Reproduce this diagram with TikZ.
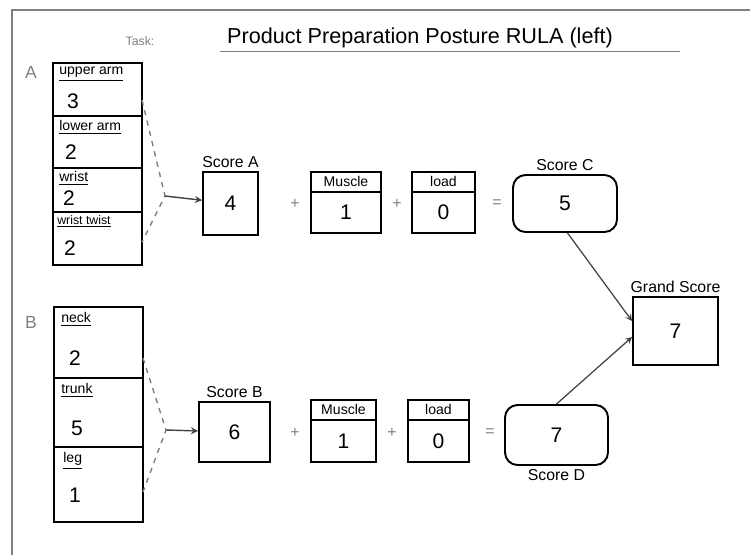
\documentclass[tikz,border=0pt]{standalone}
\usepackage{fontspec}
\setmainfont{Liberation Sans}
\usetikzlibrary{positioning}

\begin{document}
\begin{tikzpicture}[x=0.02cm, y=-0.02cm, >=stealth,
    col/.style={draw, line width=0.9pt, minimum width=1.78cm, inner sep=0pt},
    box/.style={draw, line width=1.1pt, inner sep=0pt, font=\large},
    hdr/.style={draw, line width=0.9pt, minimum height=0.4cm, inner sep=0pt, anchor=north, font=\footnotesize},
    part/.style={anchor=north west, font=\footnotesize, inner sep=1pt},
    val/.style={font=\large},
    lbl/.style={font=\small, inner sep=1pt},
    op/.style={font=\small, text=gray},
    brk/.style={dashed, gray, line width=0.8pt}]
    \useasboundingbox (0,0) rectangle (750,555);
    \draw[gray, line width=1pt] (12,555) -- (12,10) -- (750,10);
    \node[font=\scriptsize, text=gray] (task) at (140,41) {Task:};
    \node[font=\fontsize{12.3}{14}\selectfont] (title) at (420,38) {Product Preparation Posture RULA (left)};
    \draw[gray] (220,51) -- (680,51);
    \node[text=gray] (grpA) at (31,72) {A};
    \node[text=gray] (grpB) at (31,322) {B};
    \node[col, minimum height=1.06cm] (ua) at (97.5,89.5) {};
    \node[col, minimum height=1.04cm] (la) at (97.5,142) {};
    \node[col, minimum height=0.88cm] (wr) at (97.5,190) {};
    \node[col, minimum height=1.06cm] (wt) at (97.5,238.5) {};
    \node[part] (ua-l) at ([xshift=0.1cm,yshift=-0.06cm]ua.north west) {\underline{upper arm}};
    \node[part] (la-l) at ([xshift=0.1cm,yshift=-0.06cm]la.north west) {\underline{lower arm}};
    \node[part] (wr-l) at ([xshift=0.1cm,yshift=-0.04cm]wr.north west) {\underline{wrist}};
    \node[part, font=\scriptsize] (wt-l) at ([xshift=0.06cm,yshift=-0.04cm]wt.north west) {\underline{wrist twist}};
    \node[val] (ua-v) at (73,101) {3};
    \node[val] (la-v) at (71,152) {2};
    \node[val] (wr-v) at (69,198) {2};
    \node[val] (wt-v) at (70,248) {2};
    \node[col, minimum height=1.42cm] (nk) at (98.5,342.5) {};
    \node[col, minimum height=1.38cm] (tr) at (98.5,412.5) {};
    \node[col, minimum height=1.5cm] (lg) at (98.5,484.5) {};
    \node[part] (nk-l) at ([xshift=0.12cm,yshift=-0.08cm]nk.north west) {\underline{neck}};
    \node[part] (tr-l) at ([xshift=0.12cm,yshift=-0.08cm]tr.north west) {\underline{trunk}};
    \node[part] (lg-l) at ([xshift=0.16cm,yshift=-0.08cm]lg.north west) {\underline{leg}};
    \node[val] (nk-v) at (75,358) {2};
    \node[val] (tr-v) at (77,428) {5};
    \node[val] (lg-v) at (75,495) {1};
    \coordinate (uaE) at (142,100);
    \coordinate (wtE) at (142,242);
    \coordinate (jA) at (165,196);
    \coordinate (nkE) at (143,358);
    \coordinate (lgE) at (143,492);
    \coordinate (jB) at (166,430);
    \node[box, minimum width=1.1cm, minimum height=1.26cm] (sA) at (230.5,203.5) {4};
    \node[lbl, above=1pt of sA] (sA-l) {Score A};
    \node[op] (pA1) at (295,204) {+};
    \node[box, minimum width=1.4cm, minimum height=1.22cm] (mA) at (346,202.5) {};
    \node[hdr, minimum width=1.4cm] (mA-h) at (mA.north) {Muscle};
    \node[val] (mA-v) at (346,212) {1};
    \node[op] (pA2) at (397,204) {+};
    \node[box, minimum width=1.26cm, minimum height=1.22cm] (ldA) at (443.5,202.5) {};
    \node[hdr, minimum width=1.26cm] (ldA-h) at (ldA.north) {load};
    \node[val] (ldA-v) at (443.5,212) {0};
    \node[op] (eqA) at (497,204) {=};
    \node[box, rounded corners=0.25cm, minimum width=2.08cm, minimum height=1.14cm] (sC) at (565,203.5) {5};
    \node[lbl, above=1pt of sC] (sC-l) {Score C};
    \node[box, minimum width=1.42cm, minimum height=1.2cm] (sB) at (234.5,432) {6};
    \node[lbl, above=1pt of sB] (sB-l) {Score B};
    \node[op] (pB1) at (295,433) {+};
    \node[box, minimum width=1.3cm, minimum height=1.24cm] (mB) at (343.5,431) {};
    \node[hdr, minimum width=1.3cm] (mB-h) at (mB.north) {Muscle};
    \node[val] (mB-v) at (343.5,441) {1};
    \node[op] (pB2) at (392,433) {+};
    \node[box, minimum width=1.22cm, minimum height=1.24cm] (ldB) at (438.5,431) {};
    \node[hdr, minimum width=1.22cm] (ldB-h) at (ldB.north) {load};
    \node[val] (ldB-v) at (438.5,441) {0};
    \node[op] (eqB) at (490,433) {=};
    \node[box, rounded corners=0.25cm, minimum width=2.06cm, minimum height=1.2cm] (sD) at (556.5,435) {7};
    \node[lbl, below=1pt of sD] (sD-l) {Score D};
    \node[box, minimum width=1.7cm, minimum height=1.36cm] (gs) at (675.5,331) {7};
    \node[lbl, above=1pt of gs] (gs-l) {Grand Score};
    \draw[brk] (uaE) -- (jA) -- (wtE);
    \draw[brk] (nkE) -- (jB) -- (lgE);
    \draw[->, gray!50!black, line width=0.8pt] (jA) -- (sA);
    \draw[->, gray!50!black, line width=0.8pt] (jB) -- (sB);
    \draw[->, gray!50!black, line width=0.7pt] ([xshift=0.05cm]sC.south) -- ([yshift=0.2cm]gs.west);
    \draw[->, gray!50!black, line width=0.7pt] (sD.north) -- ([yshift=-0.12cm]gs.west);
\end{tikzpicture}
\end{document}
